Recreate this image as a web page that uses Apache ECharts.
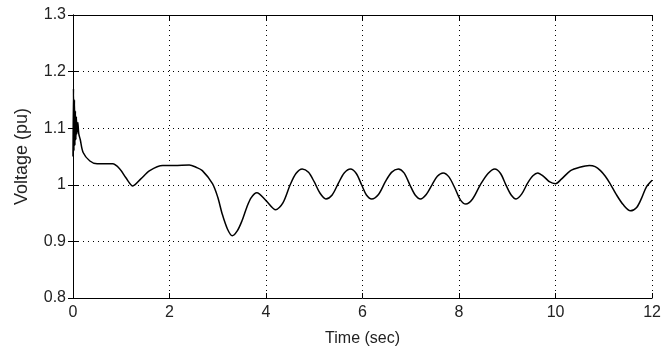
<!DOCTYPE html>
<html>
<head>
<meta charset="utf-8">
<script src="https://cdn.jsdelivr.net/npm/echarts@6/dist/echarts.min.js"></script>
<style>
html,body{margin:0;padding:0;background:#fff;}
#c{width:664px;height:353px;}
</style>
</head>
<body>
<div id="c"></div>
<script>
var timeSec = [0, 0.01, 0.02, 0.03, 0.04, 0.05, 0.06, 0.07, 0.08, 0.1, 0.12, 0.15, 0.21, 0.35, 0.5, 0.82, 0.97, 1.1, 1.24, 1.4, 1.59, 1.86, 2.1, 2.41, 2.55, 2.68, 2.89, 3.0, 3.09, 3.2, 3.3, 3.4, 3.5, 3.6, 3.69, 3.81, 4.0, 4.2,
  4.35, 4.5, 4.62, 4.75, 4.88, 5.0, 5.12, 5.24, 5.37, 5.5, 5.62, 5.75, 5.87, 5.98, 6.08, 6.19, 6.33, 6.47, 6.6, 6.74, 6.86, 6.98, 7.09, 7.2, 7.32, 7.44, 7.55, 7.67, 7.79, 7.92, 8.03, 8.14, 8.28, 8.44, 8.6, 8.74, 8.86, 8.97, 9.08, 9.18, 9.3, 9.42, 9.53, 9.63, 9.75, 9.88, 10.0, 10.12, 10.31, 10.5, 10.7, 10.82, 10.93, 11.03, 11.13, 11.25, 11.4, 11.55, 11.68, 11.78, 11.88, 12.0];
var voltage = [1.05, 1.17, 1.06, 1.15, 1.07, 1.13, 1.08, 1.12, 1.09, 1.11, 1.09, 1.08, 1.057, 1.042, 1.037, 1.037, 1.028, 1.012, 0.998, 1.010, 1.025, 1.034, 1.034, 1.035, 1.031, 1.025, 1.002, 0.978, 0.949, 0.922, 0.910, 0.918, 0.936, 0.960, 0.977, 0.986, 0.972, 0.956,
  0.968, 1.000, 1.020, 1.028, 1.022, 1.005, 0.985, 0.975, 0.982, 1.003, 1.021, 1.028, 1.020, 1.000, 0.982, 0.975, 0.983, 1.005, 1.022, 1.028, 1.021, 1.000, 0.982, 0.975, 0.983, 1.000, 1.015, 1.021, 1.014, 0.993, 0.973, 0.966, 0.975, 1.000, 1.020, 1.028, 1.020, 1.000, 0.982, 0.975, 0.984, 1.003, 1.016, 1.021, 1.015, 1.005, 1.002, 1.010, 1.025, 1.031, 1.034, 1.032, 1.025, 1.015, 1.002, 0.984, 0.965, 0.954, 0.960, 0.976, 0.996, 1.008];
var xTicks = [0, 2, 4, 6, 8, 10, 12];
var yTicks = [0.8, 0.9, 1.0, 1.1, 1.2, 1.3];

var pts = timeSec.map(function (t, i) { return [t, voltage[i]]; });
var font = 'Liberation Sans, Arial, sans-serif';
var chart = echarts.init(document.getElementById('c'), null, {renderer: 'canvas'});
var gridLine = {show: true, lineStyle: {color: '#000', type: [1, 4], width: 1}};
chart.setOption({
  animation: false,
  backgroundColor: '#fff',
  grid: {left: 73, right: 9, top: 15, bottom: 55},
  xAxis: [{
    type: 'value', min: xTicks[0], max: xTicks[xTicks.length - 1], interval: 2,
    name: 'Time (sec)', nameLocation: 'middle', nameGap: 33,
    nameTextStyle: {color: '#222', fontSize: 16, fontFamily: font},
    axisLine: {show: true, onZero: false, lineStyle: {color: '#000', width: 1}},
    axisTick: {show: true, inside: true, length: 5, lineStyle: {color: '#000'}},
    axisLabel: {color: '#222', fontSize: 16, fontFamily: font, margin: 7},
    splitLine: gridLine
  }, {
    type: 'value', min: xTicks[0], max: xTicks[xTicks.length - 1], interval: 2, position: 'top',
    axisLine: {show: true, lineStyle: {color: '#000', width: 1}},
    axisTick: {show: true, inside: true, length: 5, lineStyle: {color: '#000'}},
    axisLabel: {show: false}, splitLine: {show: false}
  }],
  yAxis: [{
    type: 'value', min: yTicks[0], max: yTicks[yTicks.length - 1], interval: 0.1,
    name: 'Voltage (pu)', nameLocation: 'middle', nameGap: 42,
    nameTextStyle: {color: '#222', fontSize: 18, fontFamily: font},
    axisLine: {show: true, onZero: false, lineStyle: {color: '#000', width: 1}},
    axisTick: {show: true, inside: true, length: 5, lineStyle: {color: '#000'}},
    axisLabel: {color: '#222', fontSize: 16, fontFamily: font, margin: 7,
      formatter: function (v) { return String(Math.round(v * 10) / 10); }},
    splitLine: gridLine
  }, {
    type: 'value', min: yTicks[0], max: yTicks[yTicks.length - 1], interval: 0.1, position: 'right',
    axisLine: {show: true, lineStyle: {color: '#000', width: 1}},
    axisTick: {show: true, inside: true, length: 5, lineStyle: {color: '#000'}},
    axisLabel: {show: false}, splitLine: {show: false}
  }],
  series: [{
    type: 'line', data: pts, showSymbol: false, smooth: 0.3,
    lineStyle: {color: '#000', width: 1.5}, xAxisIndex: 0, yAxisIndex: 0
  }]
});
</script>
</body>
</html>
